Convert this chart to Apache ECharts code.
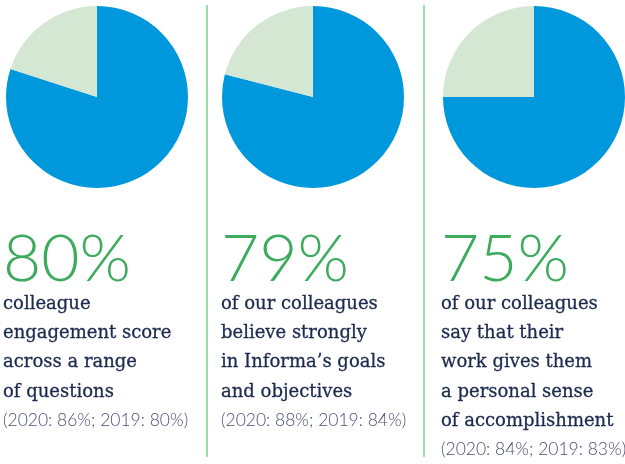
<!DOCTYPE html>
<html>
<head>
<meta charset="utf-8">
<script src="https://cdn.jsdelivr.net/npm/echarts@6/dist/echarts.min.js"></script>
<style>
  html, body { margin: 0; padding: 0; background: #fff; }
  #chart { width: 625px; height: 464px; }
</style>
</head>
<body>
<div id="chart"></div>
<script>
'use strict';
// values
var shares = [80, 79, 75];
var bigLabels = ['80%', '79%', '75%'];
var descriptions = [
  ['colleague', 'engagement score', 'across a range', 'of questions'],
  ['of our colleagues', 'believe strongly', 'in Informa\u2019s goals', 'and objectives'],
  ['of our colleagues', 'say that their', 'work gives them', 'a personal sense', 'of accomplishment']
];
var comparisons = [
  '(2020: 86%; 2019: 80%)',
  '(2020: 88%; 2019: 84%)',
  '(2020: 84%; 2019: 83%)'
];

var blue = '#0098dc';
var pale = '#d3e7d3';
var green = '#3dab5e';
var navy = '#1b2a4e';

var pieCenters = [[97, 97], [313, 97], [534, 97]];
var textLeft = [3, 221, 441];

var chart = echarts.init(document.getElementById('chart'));

var series = shares.map(function (v, i) {
  return {
    type: 'pie',
    center: pieCenters[i],
    radius: 91,
    startAngle: 90,
    silent: true,
    label: { show: false },
    labelLine: { show: false },
    emphasis: { disabled: true },
    data: [
      { value: v, name: 'agree', itemStyle: { color: blue } },
      { value: 100 - v, name: 'other', itemStyle: { color: pale } }
    ]
  };
});

var graphic = [];
// divider lines
[207, 424].forEach(function (x) {
  graphic.push({
    type: 'line',
    shape: { x1: x, y1: 5, x2: x, y2: 457 },
    style: { stroke: '#7ccd97', lineWidth: 1.5 },
    silent: true
  });
});

bigLabels.forEach(function (t, i) {
  graphic.push({
    type: 'text',
    x: textLeft[i],
    y: 260,
    style: {
      text: t,
      fill: green,
      font: '300 66px Lato',
      textVerticalAlign: 'middle'
    }
  });
  var lines = descriptions[i];
  lines.forEach(function (l, k) {
    graphic.push({
      type: 'text',
      x: textLeft[i],
      y: 304 + k * 29.3,
      style: {
        text: l,
        fill: navy,
        stroke: navy,
        lineWidth: 0.3,
        font: '18px "DejaVu Serif"',
        textVerticalAlign: 'middle'
      }
    });
  });
  graphic.push({
    type: 'text',
    x: textLeft[i],
    y: 304 + lines.length * 29.3 - 1,
    style: {
      text: comparisons[i],
      fill: '#47506f',
      font: '300 17.5px Lato',
      textVerticalAlign: 'middle'
    }
  });
});

chart.setOption({
  animation: false,
  series: series,
  graphic: graphic
});
</script>
</body>
</html>
